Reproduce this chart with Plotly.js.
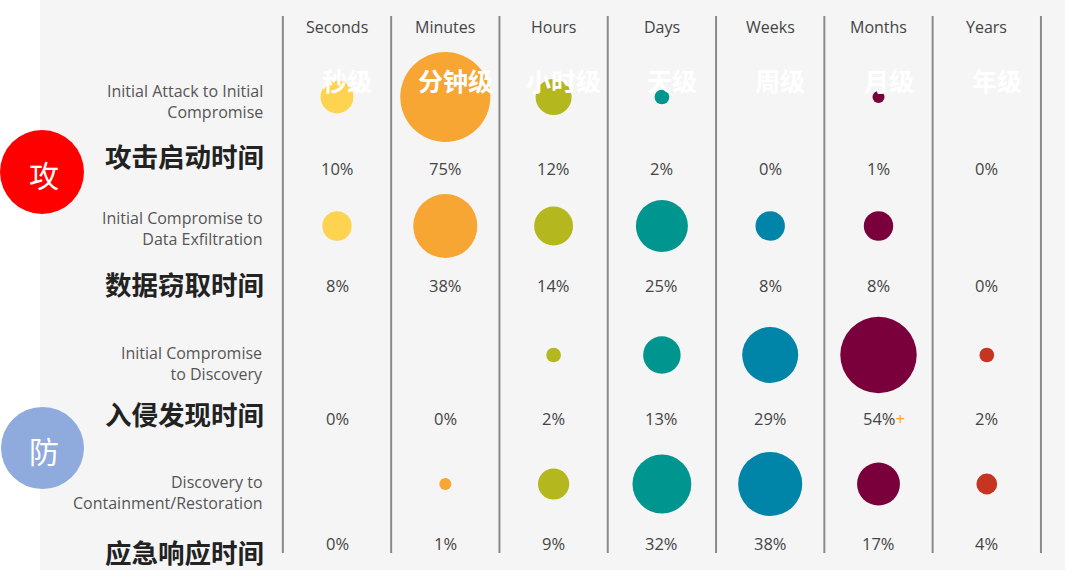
<!DOCTYPE html>
<html>
<head>
<meta charset="utf-8">
<script src="https://cdn.plot.ly/plotly-3.0.1.min.js"></script>
<style>html,body{margin:0;padding:0;background:#fff;}#chart{width:1080px;height:584px;}</style>
</head>
<body>
<div id="chart"></div>
<script>
// ---- data ----
const columns = ["Seconds", "Minutes", "Hours", "Days", "Weeks", "Months", "Years"];
const columnsZh = ["秒级", "分钟级", "小时级", "天级", "周级", "月级", "年级"];
const columnColors = ["#FDD34F", "#F7A533", "#B4B81E", "#00958F", "#0085A9", "#7A003C", "#C63520"];
const rowLabels = ["Initial Attack to Initial<br>Compromise", "Initial Compromise to<br>Data Exfiltration", "Initial Compromise<br>to Discovery", "Discovery to<br>Containment/Restoration"];
const rowLabelsZh = ["攻击启动时间", "数据窃取时间", "入侵发现时间", "应急响应时间"];
const row1 = [10, 75, 12, 2, 0, 1, 0];
const row2 = [8, 38, 14, 25, 8, 8, 0];
const row3 = [0, 0, 2, 13, 29, 54, 2];
const row4 = [0, 1, 9, 32, 38, 17, 4];
const rows = [row1, row2, row3, row4];
const valueSuffix = {"2,5": "<span style='color:#F7A533'>+</span>"};
const sideTags = ["攻", "防"];

// ---- styling offsets (pixels) ----
const pctShift = [-7, 5, 1, 5];
const zhShift = [2, 3, 2, -7];
const enShift = [-4, -2, -8, -8];

// ---- drawing ----
const traces = columns.map((c, i) => {
  const vals = rows.map(r => r[i]);
  return {
    type: "scatter", mode: "markers", name: c, hoverinfo: "skip",
    x: vals.map(() => i),
    y: rows.map((r, j) => j),
    marker: {
      color: columnColors[i],
      opacity: 1,
      sizemode: "diameter",
      size: vals.map(v => v > 0 ? Math.max(10.4 * Math.sqrt(v), 12) : 0),
      line: {width: 0}
    },
    showlegend: false
  };
});

const shapes = [];
const annotations = [];
const A = o => Object.assign({showarrow: false, xanchor: "center", yanchor: "middle"}, o);
// panel
shapes.push({type: "rect", xref: "paper", yref: "paper", x0: 40/1080, x1: 1065/1080, y0: 1 - 570/584, y1: 1, fillcolor: "#F5F5F5", line: {width: 0}, layer: "below"});
// column separators
for (let i = 0; i <= columns.length; i++) {
  shapes.push({type: "line", xref: "x", yref: "paper", x0: i - 0.5, x1: i - 0.5, y0: 1 - 553/584, y1: 1 - 16/584, line: {color: "#8A8A8A", width: 2}, layer: "below"});
}
// side circles
shapes.push({type: "circle", xref: "paper", yref: "paper", x0: 0/1080, x1: 84/1080, y0: 1 - 214/584, y1: 1 - 130/584, fillcolor: "#FF0000", line: {width: 0}});
shapes.push({type: "circle", xref: "paper", yref: "paper", x0: 1/1080, x1: 84/1080, y0: 1 - 489/584, y1: 1 - 407/584, fillcolor: "#8FAADC", line: {width: 0}});
annotations.push(A({xref: "paper", yref: "paper", x: 44/1080, y: 1 - 174/584, text: sideTags[0], font: {family: "Noto Sans CJK SC", size: 30, color: "#fff"}}));
annotations.push(A({xref: "paper", yref: "paper", x: 44/1080, y: 1 - 450/584, text: sideTags[1], font: {family: "Noto Sans CJK SC", size: 30, color: "#fff"}}));

columns.forEach((c, i) => {
  annotations.push(A({xref: "x", yref: "paper", x: i, y: 1 - 27/584, text: c, font: {family: "Open Sans", size: 16, color: "#444"}}));
  annotations.push(A({xref: "x", yref: "paper", x: i, xshift: 10, y: 1 - 80/584, text: "<b>" + columnsZh[i] + "</b>", font: {family: "Noto Sans CJK SC", size: 25, color: "#FFFFFF"}}));
});

rows.forEach((r, j) => {
  annotations.push(A({xref: "paper", yref: "y", x: 265/1080, xanchor: "right", y: j, yshift: enShift[j], text: rowLabels[j], align: "right", font: {family: "Open Sans", size: 16, color: "#555"}}));
  annotations.push(A({xref: "paper", yref: "y", x: 266/1080, xanchor: "right", y: j + 0.47, yshift: zhShift[j], text: "<b>" + rowLabelsZh[j] + "</b>", font: {family: "Noto Sans CJK SC", size: 26.5, color: "#222"}}));
  r.forEach((v, i) => {
    const suf = valueSuffix[j + "," + i] || "";
    annotations.push(A({xref: "x", yref: "y", x: i, xshift: suf ? 5 : 0, y: j + 0.5, yshift: pctShift[j], text: v + "%" + suf, font: {family: "Open Sans", size: 16.5, color: "#444"}}));
  });
});

const layout = {
  width: 1080, height: 584,
  margin: {l: 0, r: 0, t: 0, b: 0},
  paper_bgcolor: "#FFFFFF", plot_bgcolor: "rgba(0,0,0,0)",
  xaxis: {range: [-337/108.3, (1080-337)/108.3], visible: false, fixedrange: true},
  yaxis: {range: [(584-97)/129, -97/129], visible: false, fixedrange: true},
  shapes: shapes, annotations: annotations, showlegend: false
};
Plotly.newPlot("chart", traces, layout, {displayModeBar: false, staticPlot: true});
</script>
</body>
</html>
